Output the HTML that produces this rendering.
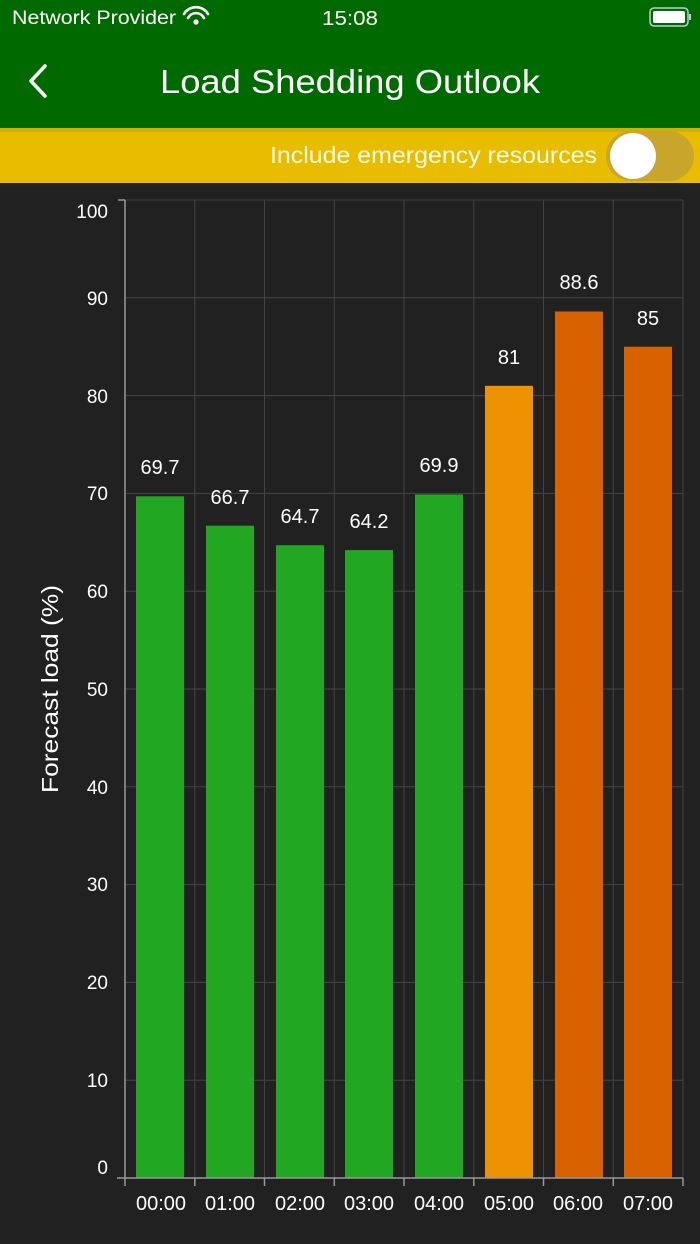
<!DOCTYPE html>
<html><head><meta charset="utf-8"><style>
html,body{margin:0;padding:0;width:700px;height:1244px;overflow:hidden;background:#212121;font-family:"Liberation Sans",sans-serif}
</style></head><body>
<svg width="700" height="1244" xmlns="http://www.w3.org/2000/svg" font-family="Liberation Sans, sans-serif">
<rect x="0" y="0" width="700" height="128" fill="#006a00"/>
<text x="12" y="24" fill="#fff" font-size="19" textLength="164" lengthAdjust="spacingAndGlyphs">Network Provider</text>
<g fill="none" stroke="#fff" stroke-width="2.6" stroke-linecap="round">
<path d="M184 14 a14 14 0 0 1 24 0"/><path d="M188 18 a9 9 0 0 1 16 0"/></g>
<circle cx="196" cy="22" r="2.6" fill="#fff"/>
<text x="322" y="25" fill="#fff" font-size="20" textLength="56" lengthAdjust="spacingAndGlyphs">15:08</text>
<rect x="650" y="8" width="38" height="18" rx="4" fill="none" stroke="#bcd" stroke-width="1.5"/>
<rect x="653" y="11" width="32" height="12" rx="2" fill="#fff"/>
<rect x="689" y="14" width="2" height="6" fill="#bcd"/>
<path d="M45 66 L31 81 L45 96" fill="none" stroke="#fff" stroke-width="3.5" stroke-linecap="round" stroke-linejoin="round"/>
<text x="160" y="93" fill="#fff" font-size="33" textLength="380" lengthAdjust="spacingAndGlyphs">Load Shedding Outlook</text>
<rect x="0" y="128" width="700" height="55" fill="#e8bd00"/>
<rect x="0" y="128" width="700" height="4" fill="#c9a400" opacity="0.6"/>
<text x="270" y="163" fill="#fafae8" font-size="23" textLength="327" lengthAdjust="spacingAndGlyphs">Include emergency resources</text>
<rect x="606" y="131" width="88" height="50" rx="25" fill="#c9a52c"/>
<circle cx="633" cy="156" r="23" fill="#fff"/>
<g stroke="#444" stroke-width="1">
<line x1="125" y1="200" x2="683" y2="200"/><line x1="125" y1="297.8" x2="683" y2="297.8"/><line x1="125" y1="395.6" x2="683" y2="395.6"/><line x1="125" y1="493.4" x2="683" y2="493.4"/><line x1="125" y1="591.2" x2="683" y2="591.2"/><line x1="125" y1="689" x2="683" y2="689"/><line x1="125" y1="786.8" x2="683" y2="786.8"/><line x1="125" y1="884.6" x2="683" y2="884.6"/><line x1="125" y1="982.4" x2="683" y2="982.4"/><line x1="125" y1="1080.2" x2="683" y2="1080.2"/>
<line x1="194.8" y1="200" x2="194.8" y2="1178"/><line x1="264.5" y1="200" x2="264.5" y2="1178"/><line x1="334.3" y1="200" x2="334.3" y2="1178"/><line x1="404" y1="200" x2="404" y2="1178"/><line x1="473.8" y1="200" x2="473.8" y2="1178"/><line x1="543.5" y1="200" x2="543.5" y2="1178"/><line x1="613.3" y1="200" x2="613.3" y2="1178"/><line x1="683" y1="200" x2="683" y2="1178"/>
</g>
<g fill="#22a722">
<rect x="136" y="496.3" width="48" height="681.7"/>
<rect x="206" y="525.7" width="48" height="652.3"/>
<rect x="276" y="545.2" width="48" height="632.8"/>
<rect x="345" y="550.1" width="48" height="627.9"/>
<rect x="415" y="494.4" width="48" height="683.6"/>
</g>
<rect x="485" y="385.8" width="48" height="792.2" fill="#ed9200"/>
<rect x="555" y="311.5" width="48" height="866.5" fill="#d96200"/>
<rect x="624" y="346.7" width="48" height="831.3" fill="#d96200"/>
<g fill="#fff" font-size="20" text-anchor="middle">
<text x="160" y="474">69.7</text><text x="230" y="504">66.7</text><text x="300" y="523">64.7</text><text x="369" y="528">64.2</text><text x="439" y="472">69.9</text><text x="509" y="364">81</text><text x="579" y="289">88.6</text><text x="648" y="325">85</text>
</g>
<g stroke="#999" stroke-width="1.5" fill="none">
<line x1="125" y1="200" x2="125" y2="1178"/><line x1="117" y1="1178" x2="683" y2="1178"/>
<line x1="118" y1="200" x2="125" y2="200"/>
<line x1="125" y1="1178" x2="125" y2="1186"/><line x1="194.8" y1="1178" x2="194.8" y2="1186"/><line x1="264.5" y1="1178" x2="264.5" y2="1186"/><line x1="334.3" y1="1178" x2="334.3" y2="1186"/><line x1="404" y1="1178" x2="404" y2="1186"/><line x1="473.8" y1="1178" x2="473.8" y2="1186"/><line x1="543.5" y1="1178" x2="543.5" y2="1186"/><line x1="613.3" y1="1178" x2="613.3" y2="1186"/><line x1="683" y1="1178" x2="683" y2="1186"/>
</g>
<g fill="#fff" font-size="19" text-anchor="end">
<text x="108" y="218">100</text><text x="108" y="305">90</text><text x="108" y="403">80</text><text x="108" y="500">70</text><text x="108" y="598">60</text><text x="108" y="696">50</text><text x="108" y="794">40</text><text x="108" y="891">30</text><text x="108" y="989">20</text><text x="108" y="1087">10</text><text x="108" y="1174">0</text>
</g>
<g fill="#fff" font-size="20" text-anchor="middle">
<text x="161" y="1210">00:00</text><text x="230" y="1210">01:00</text><text x="300" y="1210">02:00</text><text x="369" y="1210">03:00</text><text x="439" y="1210">04:00</text><text x="509" y="1210">05:00</text><text x="578" y="1210">06:00</text><text x="648" y="1210">07:00</text>
</g>
<text transform="translate(58,689) rotate(-90)" fill="#fff" font-size="23" text-anchor="middle" textLength="208" lengthAdjust="spacingAndGlyphs">Forecast load (%)</text>
</svg>
</body></html>
